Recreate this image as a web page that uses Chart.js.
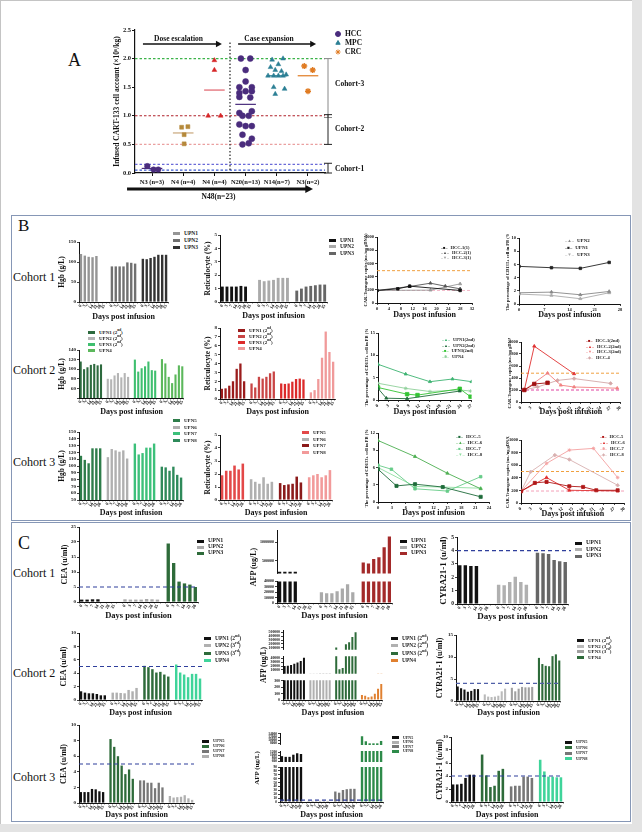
<!DOCTYPE html>
<html>
<head>
<meta charset="utf-8">
<script src="https://cdn.jsdelivr.net/npm/chart.js@4.4.1/dist/chart.umd.min.js"></script>
<style>
  html,body{margin:0;padding:0;background:#e3e3e3;}
  #page{position:relative;width:642px;height:832px;overflow:hidden;background:#e3e3e3;font-family:"Liberation Serif","Times New Roman",serif;color:#111;}
  #card{position:absolute;left:0;top:0;width:632px;height:824px;background:#fff;border-top:1px solid #c4c4c4;border-left:1px solid #c4c4c4;box-sizing:border-box;}
  .box{position:absolute;border:1.5px solid #8697b6;box-sizing:border-box;}
  .txt{position:absolute;white-space:nowrap;line-height:1;}
  .leg{position:absolute;white-space:nowrap;font-weight:bold;color:#222;}
  .leg i{display:inline-block;margin-right:4px;vertical-align:middle;}
  .leg sup{font-size:70%;line-height:0;}
  .vt{position:absolute;white-space:nowrap;font-weight:bold;transform:translate(-50%,-50%) rotate(-90deg);}
  canvas{position:absolute;}
</style>
</head>
<body>
<div id="page">
  <div id="card"></div>
  <div class="box" style="left:11px;top:215px;width:620px;height:306px"></div>
  <div class="box" style="left:11px;top:522px;width:620px;height:300px"></div>
  <div class="txt" style="left:68px;top:51px;font-size:18px">A</div>
  <div class="txt" style="left:18px;top:217px;font-size:17px">B</div>
  <div class="txt" style="left:18px;top:534px;font-size:18px">C</div>
  <div class="txt" style="left:13px;top:271px;font-size:12px">Cohort 1</div>
  <div class="txt" style="left:13px;top:364px;font-size:12px">Cohort 2</div>
  <div class="txt" style="left:13px;top:456px;font-size:12px">Cohort 3</div>
  <div class="txt" style="left:13px;top:567px;font-size:12px">Cohort 1</div>
  <div class="txt" style="left:13px;top:667px;font-size:12px">Cohort 2</div>
  <div class="txt" style="left:13px;top:771px;font-size:12px">Cohort 3</div>
</div>
<script>
// ---------- panel A data ----------
const catLabelsA = ['N3 (n=3)', 'N4 (n=4)', 'N4 (n=4)', 'N20(n=13)', 'N14(n=7)', 'N3(n=2)'];
const n3Y = [0.12, 0.06, 0.06];
const n3Dx = [-0.15, 0.05, 0.2];
const n4aY = [0.80, 0.81, 0.67, 0.51];
const n4aDx = [-0.05, 0.15, 0.03, 0.03];
const n4bY = [1.97, 1.80, 1.00, 1.00];
const n4bDx = [0, 0, -0.2, 0.2];
const n20Y = [2.0, 2.0, 1.8, 1.6, 1.5, 1.5, 1.43, 1.43, 1.4, 1.33, 1.32, 1.08, 1.05, 1.0, 1.0, 0.85, 0.82, 0.82, 0.67, 0.6, 0.52, 0.5];
const n20Dx = [-0.15, 0.15, 0, 0, -0.2, 0.2, 0, 0.2, -0.2, -0.2, 0.15, 0.2, -0.2, -0.1, 0.1, -0.2, 0.2, 0, -0.1, 0.2, 0.1, -0.1];
const n14Y = [2.0, 1.98, 1.9, 1.85, 1.8, 1.78, 1.72, 1.7, 1.7, 1.7, 1.7, 1.5, 1.47, 1.38];
const n14Dx = [0.2, -0.15, 0.05, -0.2, -0.05, 0.15, 0.3, -0.28, -0.1, 0.05, 0.2, -0.1, 0.25, -0.05];
const n3cY = [1.87, 1.80, 1.43];
const n3cDx = [-0.12, 0.15, 0];
const medianA = [0.08, 0.70, 1.45, 1.20, 1.70, 1.70];
const medianColor = ['#4a2c7d', '#c9a77a', '#e0606a', '#4a2c7d', '#2b7f94', '#e07b22'];
const cohortLines = [2.0, 1.0, 0.5, 0.15, 0.05];
const cohortColors = ['#3cb34a', '#b0202a', '#eaa0a0', '#6a6ad8', '#3a5ad0'];

// ---------- panel B data ----------
const DAYS7 = ['0', '3', '7', '14', '21', '28', '35'];
const DAYS6 = ['0', '3', '7', '14', '21', '28'];

const b1HgbUpn1 = [120, 116, 113, 112, 115, null, null];
const b1HgbUpn2 = [89, 89, 89, 89, 99, 98, 96];
const b1HgbUpn3 = [108, 107, 110, 113, 118, 118, 118];
const b1RetUpn1 = [1.15, 1.15, 1.15, 1.15, 1.2, 1.15, null];
const b1RetUpn2 = [1.65, 1.55, 1.6, 1.65, 1.8, 1.8, 1.8];
const b1RetUpn3 = [0.85, 1.0, 1.15, 1.2, 1.25, 1.3, 1.3];
const b1CarDays1 = [0, 7, 11, 28], b1CarHcc1 = [190, 215, 255, 190];
const b1CarDays2 = [0, 11, 18, 23, 28], b1CarHcc2 = [190, 250, 300, 255, 215];
const b1CarDays3 = [0, 18, 28], b1CarHcc3 = [190, 195, 290];
const b1CdDays = [0, 9, 17, 25];
const b1CdUpn2 = [1.7, 1.8, 1.4, 1.9];
const b1CdUpn1 = [5.7, 5.5, 5.4, 6.3];
const b1CdUpn3 = [1.5, 1.3, 0.8, 1.7];

const b2HgbUpn1 = [116, 100, 104, 109, 111, 108, 110];
const b2HgbUpn2 = [80, 79, 87, 92, 83, 92, 84];
const b2HgbUpn3 = [120, 95, 102, 106, 116, 98, 97];
const b2HgbUpn4 = [121, 112, 84, 71, 89, 108, 106];
const b2RetUpn1 = [1.15, 1.2, 1.5, 2.0, 3.4, 4.0, 2.0];
const b2RetUpn2 = [1.75, 1.3, 2.5, 2.3, 2.5, 2.9, 3.1];
const b2RetUpn3 = [1.75, 1.7, 1.75, 1.95, 2.25, 2.3, 2.2];
const b2RetUpn4 = [0.75, 1.0, 2.25, 4.65, 7.6, 5.3, 4.2];
const b2CdDays1 = [0, 8, 15, 21.5, 27], b2CdUpn1 = [8.0, 5.8, 4.1, 4.7, 4.1];
const b2CdDays2 = [0, 2.4, 8.4, 23.6], b2CdUpn2 = [2.6, 0.4, 0.3, 2.0];
const b2CdDays3 = [0, 8.4, 11.4, 23.6, 26.7], b2CdUpn3 = [2.8, 1.3, 1.1, 2.5, 0.75];
const b2CdDays4 = [0, 8, 15, 23.6, 26.7], b2CdUpn4 = [3.75, 2.6, 1.9, 2.25, 2.0];
const b2CarDays1 = [1, 4, 8], b2CarHcc1 = [200, 300, 320];
const b2CarDays2 = [1, 4, 16], b2CarHcc2 = [200, 930, 470];
const b2CarDays3 = [1, 8, 12, 16, 29], b2CarHcc3 = [200, 480, 280, 250, 230];
const b2CarDays4 = [1, 5, 11, 16, 27], b2CarHcc4 = [200, 250, 360, 390, 310];

const b3HgbUpn5 = [115, 109, 104, 126, 126, 126];
const b3HgbUpn6 = [113, 125, 123, 121, 123, 111];
const b3HgbUpn7 = [133, 117, 119, 127, 127, 133];
const b3HgbUpn8 = [99, 98, 93, 99, 87, 83];
const b3RetUpn5 = [1.9, 2.25, 2.25, 2.65, 2.35, 2.8];
const b3RetUpn6 = [1.6, 1.4, 1.25, 1.75, 1.25, 1.4];
const b3RetUpn7 = [1.3, 1.15, 1.2, 1.25, 1.8, 1.35];
const b3RetUpn8 = [1.75, 1.9, 2.0, 1.75, 1.9, 2.3];
const b3CdDays5 = [0, 4, 8, 14, 22.2], b3CdHcc5 = [5.7, 2.8, 3.1, 2.6, 0.9];
const b3CdDays6 = [0, 8, 15, 22.2], b3CdHcc6 = [10.7, 7.9, 5.0, 2.3];
const b3CdDays7 = [0, 2.9, 8, 15, 22.2], b3CdHcc7 = [6.4, 5.7, 2.3, 1.9, 4.4];
const b3CdDays8 = [0, 8, 14, 22.2], b3CdHcc8 = [6.0, 2.7, 2.6, 2.4];
const b3CarDays5 = [0, 4, 7.4, 14, 18, 21.8, 28], b3CarHcc5 = [186, 319, 335, 266, 255, 202, 202];
const b3CarDays6 = [0, 7.4, 14, 28], b3CarHcc6 = [186, 404, 202, 191];
const b3CarDays7 = [0, 7.4, 14, 21, 28], b3CarHcc7 = [186, 628, 840, 867, 404];
const b3CarDays8 = [0, 2.8, 9.8, 14, 28], b3CarHcc8 = [186, 495, 760, 690, 282];

// ---------- panel C data ----------
const c1CeaUpn1 = [0.8, 0.8, 0.9, 0.9, null, null, null];
const c1CeaUpn2 = [0.9, 0.8, 0.8, 0.8, 1.0, 0.9, 0.8];
const c1CeaUpn3 = [19.5, 13, 6.8, 6.2, 5.8, 5.0];
const c1AfpUpn1 = [200000, 200000, 200000, 200000, null, null, null];
const c1AfpUpn2 = [20000, 18000, 18000, 21700, 27000, 34500, 20000];
const c1AfpUpn3 = [450000, 425000, 550000, 592000, 867000, 1157000];
const c1CyUpn1 = [2.9, 2.9, 2.85, 2.85, null, null];
const c1CyUpn2 = [1.45, 1.4, 1.65, 2.05, 1.65, 1.45];
const c1CyUpn3 = [3.85, 3.8, 3.75, 3.3, 3.2, 3.15];

const c2CeaUpn1 = [1.3, 1.1, 1.0, 1.0, 0.9, 0.7, 0.7];
const c2CeaUpn2 = [1.1, 1.1, 1.05, 1.0, 1.5, 1.3, 1.8];
const c2CeaUpn3 = [5.1, 4.9, 4.6, 4.1, 4.2, 3.8, 3.5];
const c2CeaUpn4 = [5.3, 4.1, 3.8, 3.4, 3.9, 3.9, 3.2];
const c2AfpUpn1 = [20000, 21000, 23000, 26000, 29000, 33000, 41000];
const c2AfpUpn2 = [700, 650, 700, 750, 800, 900, 850];
const c2AfpUpn3 = [105000, 12000, 15000, 190000, 240000, 380000, 500000];
const c2AfpUpn4 = [80, 65, 45, 55, 100, 175, 250];
const c2CyUpn1 = [3.3, 2.9, 2.6, 2.1, 2.3, 2.7, 2.7];
const c2CyUpn2 = [1.5, 1.0, 0.9, 1.0, 1.2, 2.2, 2.8];
const c2CyUpn3 = [3.0, 2.2, 2.8, 3.2, 3.1, 3.1, 3.2];
const c2CyUpn4 = [9.8, 8.4, 8.0, 7.9, 10.2, 10.6, 9.2];

const c3CeaUpn5 = [1.4, 1.4, 1.4, 1.8, 1.75, 1.5, 1.4];
const c3CeaUpn6 = [8.2, 7.2, 6.0, 4.8, 3.7, 4.3, 3.1];
const c3CeaUpn7 = [2.9, 2.9, 2.6, 2.6, 1.9, 2.6, 2.0];
const c3CeaUpn8 = [0.9, 0.7, 0.75, 0.8, 1.0, 0.6, 0.4];
const c3AfpUpn5 = [950, 900, 900, 1050, 1150, 1100];
const c3AfpUpn6 = [3, 3, 3, 3, 3, 3];
const c3AfpUpn7 = [27, 24, 31, 33, 34, 34];
const c3AfpUpn8 = [12500, 9300, 8000, 8000, 8000, 9500];
const c3CyUpn5 = [2.7, 2.7, 2.8, 3.7, 4.2, 4.2];
const c3CyUpn6 = [7.3, 4.1, 2.3, 2.5, 4.8, 5.1];
const c3CyUpn7 = [2.4, 2.5, 2.5, 3.9, 3.9, 3.7];
const c3CyUpn8 = [6.5, 4.7, 3.9, 3.9, 3.8, 3.8];

// ---------- helpers ----------
const FONT = "'Liberation Serif', 'Times New Roman', serif";
Chart.defaults.font.family = FONT;
Chart.defaults.color = '#111';
const page = document.getElementById('page');
const BLUE = '#2f3f9c';

function mkCanvas(left, top, w, h) {
  const c = document.createElement('canvas');
  c.width = Math.round(w); c.height = Math.round(h);
  c.style.left = Math.round(left) + 'px'; c.style.top = Math.round(top) + 'px';
  c.style.width = Math.round(w) + 'px'; c.style.height = Math.round(h) + 'px';
  page.appendChild(c);
  return c;
}

function legend(x, y, items, opt) {
  const fs = opt.size || 5.5, gap = opt.gap || 7;
  items.forEach((it, i) => {
    const d = document.createElement('div');
    d.className = 'leg';
    d.style.left = x + 'px';
    d.style.top = (y + i * gap - fs * 0.6) + 'px';
    d.style.fontSize = fs + 'px';
    d.style.lineHeight = (fs * 1.2) + 'px';
    const m = it.mark
      ? `<span style="color:${it.color};margin-right:3px;font-size:${fs * 0.9}px">–${it.mark}–</span>`
      : `<i style="background:${it.color};width:${opt.mw || 7}px;height:${opt.mh || 3}px"></i>`;
    d.innerHTML = m + it.label;
    page.appendChild(d);
  });
}

function vtitle(x, y, text, size) {
  const d = document.createElement('div');
  d.className = 'vt';
  d.style.left = x + 'px'; d.style.top = y + 'px'; d.style.fontSize = size + 'px';
  d.textContent = text;
  page.appendChild(d);
}

const refLine = {
  id: 'refLine',
  afterDatasetsDraw(chart, args, o) {
    if (!o || o.value === undefined) return;
    const a = chart.chartArea, yv = chart.scales.y.getPixelForValue(o.value);
    const ctx = chart.ctx;
    ctx.save();
    ctx.strokeStyle = o.color || BLUE; ctx.lineWidth = o.width || 1.2; ctx.setLineDash(o.dash || [4, 3]);
    ctx.beginPath(); ctx.moveTo(a.left, yv); ctx.lineTo(a.right + (o.extend || 0), yv); ctx.stroke();
    ctx.restore();
  }
};
Chart.register(refLine);

function buildGroups(groups, days) {
  const labels = [];
  const datasets = groups.map(g => ({label: g.label, backgroundColor: g.color, data: [], grouped: false,
    barPercentage: 0.62, categoryPercentage: 1, clip: 0}));
  groups.forEach((g, gi) => {
    g.values.forEach((v, j) => {
      labels.push(days[j]);
      datasets.forEach((d, di) => d.data.push(di === gi ? v : null));
    });
    if (gi < groups.length - 1) { labels.push(''); datasets.forEach(d => d.data.push(null)); }
  });
  return {labels, datasets};
}

function yScale(o) {
  const s = {
    type: 'linear', min: o.min, max: o.max,
    ticks: {stepSize: o.step, font: {size: o.tick || 5, weight: 'bold'}, color: '#111', padding: 1,
      autoSkip: false, callback: o.cb || (v => String(v))},
    grid: {drawOnChartArea: false, drawTicks: true, tickLength: 2, color: '#111', lineWidth: 0.8},
    border: {color: '#111', width: 1},
    title: {display: !!o.title, text: o.title, font: {size: o.tsize || 7, weight: 'bold'}, padding: 0, color: '#111'},
    afterFit: sc => { sc.width = o.padL; }
  };
  if (o.ticksList) s.afterBuildTicks = sc => { sc.ticks = o.ticksList.map(v => ({value: v})); };
  return s;
}

function xCat(show, padB, xs, tick) {
  return {
    display: show,
    grid: {drawOnChartArea: false, drawTicks: true, tickLength: 1.5, color: '#111', lineWidth: 0.6},
    border: {color: '#111', width: 1},
    ticks: {font: {size: tick || 4.5, weight: 'bold'}, color: '#111', autoSkip: false, minRotation: 60, maxRotation: 60, padding: 0},
    title: {display: true, text: 'Days post infusion', font: {size: xs, weight: 'bold'}, padding: 0, color: '#111'},
    afterFit: sc => { sc.height = padB; }
  };
}

function barChart(o) {
  const xs = o.xsize || 8, ys = o.ysize || 7.5;
  const padL = Math.round(o.plot.x - (o.yTitleX - 0.6 * ys));
  const padT = 4, padR = 3;
  const padB = Math.round(o.xTitleY + 0.6 * xs - (o.plot.y + o.plot.h));
  const c = mkCanvas(o.plot.x - padL, o.plot.y - padT, o.plot.w + padL + padR, o.plot.h + padT + padB);
  const {labels, datasets} = buildGroups(o.groups, o.days);
  new Chart(c, {
    type: 'bar', data: {labels, datasets},
    options: {
      responsive: false, animation: false,
      layout: {padding: {left: 0, top: padT, right: padR, bottom: 0}, autoPadding: false},
      plugins: {legend: {display: false}, tooltip: {enabled: false}, refLine: o.ref || {}},
      scales: {x: xCat(true, padB, xs, o.xtick), y: yScale(Object.assign({}, o.y, {padL, title: o.yTitle, tsize: ys}))}
    }
  });
  if (o.legend) legend(o.legend.x, o.legend.y, o.groups.map(g => ({label: g.html || g.label, color: g.color})), o.legend);
}

function brokenChart(o) {
  const xs = o.xsize || 8;
  o.segs.forEach((sg, si) => {
    const last = si === o.segs.length - 1;
    const padL = 28, padT = 3, padR = 3;
    const padB = last ? Math.round(o.xTitleY + 0.6 * xs - sg.bottom) : 0;
    const h = sg.bottom - sg.top;
    const c = mkCanvas(o.x - padL, sg.top - padT, o.w + padL + padR, h + padT + padB);
    const {labels, datasets} = buildGroups(o.groups, o.days);
    new Chart(c, {
      type: 'bar', data: {labels, datasets},
      options: {
        responsive: false, animation: false,
        layout: {padding: {left: 0, top: padT, right: padR, bottom: 0}, autoPadding: false},
        plugins: {legend: {display: false}, tooltip: {enabled: false},
          refLine: (o.ref && o.ref.seg === si) ? o.ref : {}},
        scales: {x: xCat(last, padB, xs, o.xtick),
          y: yScale({min: sg.min, max: sg.max, ticksList: sg.ticks, padL, tick: sg.tick || 4})}
      }
    });
  });
  vtitle(o.titleX, o.titleY, o.title, o.tsize || 7.5);
  if (o.legend) legend(o.legend.x, o.legend.y, o.groups.map(g => ({label: g.html || g.label, color: g.color})), o.legend);
}

function lineChart(o) {
  const xs = o.xsize || 8, ys = o.ysize || 4.5;
  const padL = Math.round(o.plot.x - (o.yTitleX - 0.6 * ys));
  const padT = 4, padR = 4;
  const padB = Math.round(o.xTitleY + 0.6 * xs - (o.plot.y + o.plot.h));
  const c = mkCanvas(o.plot.x - padL, o.plot.y - padT, o.plot.w + padL + padR, o.plot.h + padT + padB);
  const datasets = o.series.map(s => ({
    label: s.label, data: s.days.map((d, i) => ({x: d, y: s.vals[i]})), showLine: true,
    borderColor: s.color, backgroundColor: s.fill || s.color, pointStyle: s.style, pointRadius: s.r || 1.8,
    borderWidth: 0.9, pointBorderWidth: 0.8
  }));
  (o.refs || []).forEach(r => datasets.push({
    data: [{x: o.x.min, y: r.v}, {x: o.x.max, y: r.v}], showLine: true, borderColor: r.color,
    borderDash: [3, 2], borderWidth: 1, pointRadius: 0
  }));
  new Chart(c, {
    type: 'scatter', data: {datasets},
    options: {
      responsive: false, animation: false,
      layout: {padding: {left: 0, top: padT, right: padR, bottom: 0}, autoPadding: false},
      plugins: {legend: {display: false}, tooltip: {enabled: false}},
      scales: {
        x: {type: 'linear', min: o.x.min, max: o.x.max,
          ticks: {stepSize: o.x.step, font: {size: 4.5, weight: 'bold'}, color: '#111', padding: 1, autoSkip: false},
          grid: {drawOnChartArea: false, drawTicks: true, tickLength: 2, color: '#111', lineWidth: 0.8},
          border: {color: '#111', width: 1},
          title: {display: true, text: 'Days post infusion', font: {size: xs, weight: 'bold'}, padding: 0, color: '#111'},
          afterFit: sc => { sc.height = padB; }},
        y: yScale(Object.assign({}, o.y, {padL, title: o.yTitle, tsize: ys, tick: 4.5}))
      }
    }
  });
  if (o.legend) legend(o.legend.x, o.legend.y, o.series.map(s => ({label: s.label, color: s.color, mark: s.mark})), o.legend);
}

// ---------- panel A ----------
function arrow(ctx, x1, x2, y, lw, head) {
  ctx.lineWidth = lw;
  ctx.beginPath(); ctx.moveTo(x1, y); ctx.lineTo(x2 - head, y); ctx.stroke();
  ctx.beginPath(); ctx.moveTo(x2, y); ctx.lineTo(x2 - head * 1.7, y - head * 0.9); ctx.lineTo(x2 - head * 1.7, y + head * 0.9);
  ctx.closePath(); ctx.fill();
}
function bracket(ctx, x, y1, y2, cap) {
  ctx.beginPath();
  ctx.moveTo(x - cap, y1); ctx.lineTo(x + cap, y1);
  ctx.moveTo(x, y1); ctx.lineTo(x, y2);
  ctx.moveTo(x - cap, y2); ctx.lineTo(x + cap, y2);
  ctx.stroke();
}
const legendA = [
  {label: 'HCC', color: '#4a2c7d', style: 'circle'},
  {label: 'MPC', color: '#2b7f94', style: 'triangle'},
  {label: 'CRC', color: '#e07b22', style: 'star'}
];
const panelAPlugin = {
  id: 'panelA',
  afterDraw(chart) {
    const {ctx, chartArea: a, scales: {x, y}} = chart;
    const px = v => x.getPixelForValue(v), py = v => y.getPixelForValue(v);
    ctx.save();
    ctx.fillStyle = '#111'; ctx.strokeStyle = '#111';
    ctx.font = 'bold 7.5px ' + FONT;
    ctx.textAlign = 'center'; ctx.textBaseline = 'middle';
    ctx.fillText('Dose escalation', px(1.85), a.top + 9);
    arrow(ctx, px(0.71), px(3.24), a.top + 14, 1.6, 3.5);
    ctx.fillText('Case expansion', px(4.75), a.top + 9);
    arrow(ctx, px(3.76), px(6.26), a.top + 14, 1.6, 3.5);
    arrow(ctx, px(0.2), px(6.16), a.bottom + 16, 3, 4.5);
    ctx.fillText('N48(n=23)', px(3.13), a.bottom + 24);
    const bx = a.right + 3;
    ctx.lineWidth = 1;
    ctx.strokeStyle = '#888';
    bracket(ctx, bx, py(2.0), py(0.97), 4);
    ctx.strokeStyle = '#222';
    bracket(ctx, bx, py(1.02), py(0.5), 4);
    bracket(ctx, bx, py(0.17), py(0.0), 4);
    ctx.textAlign = 'left';
    ctx.fillText('Cohort-3', bx + 7, py(1.56));
    ctx.fillText('Cohort-2', bx + 7, py(0.77));
    ctx.fillText('Cohort-1', bx + 7, py(0.075));
    legendA.forEach((it, i) => {
      const ly = a.top + 4 + i * 9;
      ctx.fillStyle = it.color; ctx.strokeStyle = it.color;
      Chart.helpers.drawPoint(ctx, {pointStyle: it.style, radius: 2.5, borderWidth: it.style === 'star' ? 1.2 : 1, rotation: 0}, bx + 10, ly);
      ctx.fillStyle = '#111';
      ctx.fillText(it.label, bx + 17, ly);
    });
    ctx.restore();
  }
};

(function () {
  const xMin = 0.455, xMax = 6.545;
  const pts = (ys, dx, c) => ys.map((v, i) => ({x: c + dx[i], y: v}));
  const dots = (data, style, color, r) => ({data, pointStyle: style, pointRadius: r || 2.8,
    backgroundColor: color, borderColor: color, borderWidth: style === 'star' ? 1.4 : 0.5});
  const datasets = [
    dots(pts(n3Y, n3Dx, 1), 'circle', '#4a2c7d'),
    dots(pts(n4aY, n4aDx, 2), 'rect', '#b5893a'),
    dots(pts(n4bY, n4bDx, 3), 'triangle', '#d62728'),
    dots(pts(n20Y, n20Dx, 4), 'circle', '#4a2c7d', 3),
    dots(pts(n14Y, n14Dx, 5), 'triangle', '#2b7f94'),
    dots(pts(n3cY, n3cDx, 6), 'star', '#e07b22', 3)
  ];
  medianA.forEach((m, i) => datasets.push({data: [{x: i + 1 - 0.33, y: m}, {x: i + 1 + 0.33, y: m}],
    showLine: true, borderColor: medianColor[i], borderWidth: 1.2, pointRadius: 0}));
  datasets.push({data: [{x: 3.5, y: 2.28}, {x: 3.5, y: 0.04}], showLine: true, borderColor: '#222',
    borderDash: [1.5, 2], borderWidth: 1.2, pointRadius: 0});
  cohortLines.forEach((v, i) => datasets.push({data: [{x: xMin, y: v}, {x: xMax, y: v}], showLine: true,
    borderColor: cohortColors[i], borderDash: [2.5, 2], borderWidth: 1.1, pointRadius: 0}));
  const c = mkCanvas(113, 20, 277, 186);
  new Chart(c, {
    type: 'scatter', data: {datasets},
    plugins: [panelAPlugin],
    options: {
      responsive: false, animation: false,
      layout: {padding: {left: 0, top: 10, right: 65, bottom: 0}, autoPadding: false},
      plugins: {legend: {display: false}, tooltip: {enabled: false}},
      scales: {
        x: {type: 'linear', min: xMin, max: xMax,
          afterBuildTicks: sc => { sc.ticks = catLabelsA.map((l, i) => ({value: i + 1})); },
          ticks: {callback: v => catLabelsA[v - 1], font: {size: 6.5, weight: 'bold'}, color: '#111', padding: 2, autoSkip: false, maxRotation: 0},
          grid: {drawOnChartArea: false, drawTicks: true, tickLength: 3, color: '#111'},
          border: {color: '#111', width: 1.2},
          afterFit: sc => { sc.height = 33; }},
        y: {type: 'linear', min: 0, max: 2.5,
          ticks: {stepSize: 0.5, callback: v => v.toFixed(1), font: {size: 6.5, weight: 'bold'}, color: '#111', padding: 1},
          grid: {drawOnChartArea: false, drawTicks: true, tickLength: 3, color: '#111'},
          border: {color: '#111', width: 1.2},
          title: {display: true, text: 'Infused CART-133 cell account (×10⁶/kg)', font: {size: 7.5, weight: 'bold'}, padding: 0, color: '#111'},
          afterFit: sc => { sc.width = 22; }}
      }
    }
  });
})();

// ---------- panel B ----------
barChart({plot: {x: 79, y: 242, w: 89, h: 60}, yTitleX: 63, xTitleY: 317, yTitle: 'Hgb (g/L)', days: DAYS7,
  y: {min: 0, max: 150, step: 50},
  groups: [{label: 'UPN1', color: '#959595', values: b1HgbUpn1}, {label: 'UPN2', color: '#707070', values: b1HgbUpn2},
    {label: 'UPN3', color: '#333', values: b1HgbUpn3}],
  legend: {x: 173, y: 233, gap: 7, size: 5.5}});
barChart({plot: {x: 220, y: 235, w: 107, h: 67}, yTitleX: 209, xTitleY: 316, yTitle: 'Reticulocyte (%)', days: DAYS7,
  y: {min: 0, max: 5, step: 1},
  groups: [{label: 'UPN1', color: '#111', values: b1RetUpn1}, {label: 'UPN2', color: '#aaa', values: b1RetUpn2},
    {label: 'UPN3', color: '#666', values: b1RetUpn3}],
  legend: {x: 329, y: 240, gap: 6.5, size: 5.5}});
lineChart({plot: {x: 377, y: 237, w: 95, h: 66}, yTitleX: 366, xTitleY: 315,
  yTitle: 'CAR-Transgene copies (no./ug gDNA)', x: {min: 0, max: 32, step: 4}, y: {min: 0, max: 1000, step: 200},
  series: [
    {label: 'HCC-1(1)', days: b1CarDays1, vals: b1CarHcc1, color: '#111', style: 'rect', mark: '■'},
    {label: 'HCC-2(1)', days: b1CarDays2, vals: b1CarHcc2, color: '#555', style: 'triangle', mark: '▲'},
    {label: 'HCC-3(1)', days: b1CarDays3, vals: b1CarHcc3, color: '#999', style: 'triangle', mark: '▼'}],
  refs: [{v: 490, color: '#f0a040'}, {v: 190, color: '#f2b8c8'}],
  legend: {x: 441, y: 248, gap: 5, size: 4.5}});
lineChart({plot: {x: 519, y: 238, w: 101, h: 66}, yTitleX: 508, xTitleY: 315,
  yTitle: 'The percentage of CD133+ cell in PB (%)', x: {min: 0, max: 28, step: 7}, y: {min: 0, max: 10, step: 2},
  series: [
    {label: 'UPN2', days: b1CdDays, vals: b1CdUpn2, color: '#888', style: 'triangle', mark: '▲'},
    {label: 'UPN1', days: b1CdDays, vals: b1CdUpn1, color: '#222', style: 'rect', mark: '■'},
    {label: 'UPN3', days: b1CdDays, vals: b1CdUpn3, color: '#aaa', style: 'triangle', mark: '▼'}],
  legend: {x: 565, y: 241, gap: 7, size: 5}});

barChart({plot: {x: 79, y: 350, w: 105, h: 48}, yTitleX: 63, xTitleY: 412, yTitle: 'Hgb (g/L)', days: DAYS7,
  y: {min: 40, max: 140, step: 20, cb: v => v === 40 ? '' : String(v)},
  groups: [{label: 'UPN1 (2nd)', html: 'UPN1 (2<sup>nd</sup>)', color: '#2d6a3e', values: b2HgbUpn1},
    {label: 'UPN2 (2nd)', html: 'UPN2 (2<sup>nd</sup>)', color: '#b5b5b5', values: b2HgbUpn2},
    {label: 'UPN3 (2nd)', html: 'UPN3 (2<sup>nd</sup>)', color: '#3fbf6f', values: b2HgbUpn3},
    {label: 'UPN4', color: '#5cb85c', values: b2HgbUpn4}],
  legend: {x: 88, y: 333, gap: 6, size: 5}});
barChart({plot: {x: 220, y: 328, w: 115, h: 71}, yTitleX: 209, xTitleY: 412, yTitle: 'Reticulocyte (%)', days: DAYS7,
  y: {min: 0, max: 8, step: 1},
  groups: [{label: 'UPN1 (2nd)', html: 'UPN1 (2<sup>nd</sup>)', color: '#9b1c1c', values: b2RetUpn1},
    {label: 'UPN2 (2nd)', html: 'UPN2 (2<sup>nd</sup>)', color: '#c94545', values: b2RetUpn2},
    {label: 'UPN3 (2nd)', html: 'UPN3 (2<sup>nd</sup>)', color: '#dc2a2a', values: b2RetUpn3},
    {label: 'UPN4', color: '#f09a9a', values: b2RetUpn4}],
  legend: {x: 238, y: 331, gap: 6, size: 5}});
lineChart({plot: {x: 378, y: 333, w: 94, h: 67}, yTitleX: 367, xTitleY: 412,
  yTitle: 'The percentage of CD133+ cell in PB (%)', x: {min: 0, max: 27, step: 3}, y: {min: 0, max: 15, step: 5},
  series: [
    {label: 'UPN1(2nd)', days: b2CdDays1, vals: b2CdUpn1, color: '#3cb371', style: 'triangle', mark: '▲'},
    {label: 'UPN2(2nd)', days: b2CdDays2, vals: b2CdUpn2, color: '#1e6b3a', style: 'triangle', mark: '▲'},
    {label: 'UPN3(2nd)', days: b2CdDays3, vals: b2CdUpn3, color: '#33c433', style: 'rect', mark: '■', r: 2.5},
    {label: 'UPN4', days: b2CdDays4, vals: b2CdUpn4, color: '#8fd09a', style: 'star', mark: '✱'}],
  legend: {x: 442, y: 340, gap: 5.5, size: 4.5}});
lineChart({plot: {x: 521, y: 342, w: 100, h: 60}, yTitleX: 510, xTitleY: 412,
  yTitle: 'CAR-Transgene copies (no./ug gDNA)', x: {min: 0, max: 30, step: 3}, y: {min: 0, max: 1000, step: 200},
  series: [
    {label: 'HCC-1(2nd)', days: b2CarDays1, vals: b2CarHcc1, color: '#a01010', style: 'rect', mark: '■', r: 2.5},
    {label: 'HCC-2(2nd)', days: b2CarDays2, vals: b2CarHcc2, color: '#e03030', style: 'triangle', mark: '▲'},
    {label: 'HCC-3(2nd)', days: b2CarDays3, vals: b2CarHcc3, color: '#f08080', style: 'triangle', mark: '▼'},
    {label: 'HCC-4', days: b2CarDays4, vals: b2CarHcc4, color: '#d4a8a8', style: 'rectRot', mark: '◆'}],
  refs: [{v: 480, color: '#f0a040'}, {v: 200, color: '#e040a0'}],
  legend: {x: 586, y: 341, gap: 5.5, size: 4.5}});

barChart({plot: {x: 79, y: 432, w: 104, h: 68}, yTitleX: 63, xTitleY: 513, yTitle: 'Hgb (g/L)', days: DAYS6,
  y: {min: 50, max: 150, step: 10},
  groups: [{label: 'UPN5', color: '#2e7d4a', values: b3HgbUpn5}, {label: 'UPN6', color: '#b0b0b0', values: b3HgbUpn6},
    {label: 'UPN7', color: '#3cc07a', values: b3HgbUpn7}, {label: 'UPN8', color: '#2e8a5a', values: b3HgbUpn8}],
  legend: {x: 173, y: 421, gap: 6.5, size: 5}});
barChart({plot: {x: 220, y: 435, w: 112, h: 65}, yTitleX: 209, xTitleY: 513, yTitle: 'Reticulocyte (%)', days: DAYS6,
  y: {min: 0, max: 5, step: 1},
  groups: [{label: 'UPN5', color: '#e34848', values: b3RetUpn5}, {label: 'UPN6', color: '#b0b0b0', values: b3RetUpn6},
    {label: 'UPN7', color: '#8b1a1a', values: b3RetUpn7}, {label: 'UPN8', color: '#f29a9a', values: b3RetUpn8}],
  legend: {x: 302, y: 433, gap: 6.5, size: 5}});
lineChart({plot: {x: 378, y: 433, w: 111, h: 69}, yTitleX: 367, xTitleY: 513,
  yTitle: 'The percentage of CD133+ cell in PB (%)', x: {min: 0, max: 24, step: 3}, y: {min: 0, max: 12, step: 3},
  series: [
    {label: 'HCC-5', days: b3CdDays5, vals: b3CdHcc5, color: '#1e6b3a', style: 'rect', mark: '■', r: 2.2},
    {label: 'HCC-6', days: b3CdDays6, vals: b3CdHcc6, color: '#4caf50', style: 'triangle', mark: '▲'},
    {label: 'HCC-7', days: b3CdDays7, vals: b3CdHcc7, color: '#66cc88', style: 'rect', mark: '■'},
    {label: 'HCC-8', days: b3CdDays8, vals: b3CdHcc8, color: '#8fdfa0', style: 'triangle', mark: '▼'}],
  legend: {x: 456, y: 437, gap: 6, size: 4.8}});
lineChart({plot: {x: 521, y: 440, w: 104, h: 63}, yTitleX: 508, xTitleY: 514,
  yTitle: 'CAR-Transgene copies (no./ug gDNA)', x: {min: 0, max: 30, step: 3}, y: {min: 0, max: 1000, step: 200},
  series: [
    {label: 'HCC-5', days: b3CarDays5, vals: b3CarHcc5, color: '#b01818', style: 'rect', mark: '■', r: 2.2},
    {label: 'HCC-6', days: b3CarDays6, vals: b3CarHcc6, color: '#e03030', style: 'triangle', mark: '▲'},
    {label: 'HCC-7', days: b3CarDays7, vals: b3CarHcc7, color: '#f4a0a0', style: 'star', mark: '✱'},
    {label: 'HCC-8', days: b3CarDays8, vals: b3CarHcc8, color: '#d8b0b0', style: 'rectRot', mark: '◆'}],
  refs: [{v: 500, color: '#f0a040'}, {v: 190, color: '#f4a0b8'}],
  legend: {x: 600, y: 437, gap: 6, size: 4.5}});

// ---------- panel C ----------
barChart({plot: {x: 79, y: 527, w: 119, h: 75}, yTitleX: 65, xTitleY: 616, yTitle: 'CEA (u/ml)', ysize: 8, xsize: 8.5, days: DAYS7,
  y: {min: 0, max: 25, step: 5},
  groups: [{label: 'UPN1', color: '#111', values: c1CeaUpn1}, {label: 'UPN2', color: '#aaa', values: c1CeaUpn2},
    {label: 'UPN3', color: '#2e6b3a', values: c1CeaUpn3}],
  ref: {value: 5, color: BLUE},
  legend: {x: 197, y: 541, gap: 6, size: 6}});
brokenChart({x: 277, w: 115, xTitleY: 616, xsize: 8.5, days: DAYS7, title: 'AFP (ug/L)', titleX: 253, titleY: 567, tsize: 8,
  segs: [{top: 530, bottom: 577, min: 150000, max: 1325000, ticks: [500000, 1000000]},
    {top: 581, bottom: 603, min: 0, max: 40000, ticks: [0, 10000, 20000, 30000, 40000]}],
  groups: [{label: 'UPN1', color: '#111', values: c1AfpUpn1}, {label: 'UPN2', color: '#aaa', values: c1AfpUpn2},
    {label: 'UPN3', color: '#a32a2a', values: c1AfpUpn3}],
  legend: {x: 400, y: 541, gap: 6, size: 6}});
barChart({plot: {x: 457, y: 537, w: 111, h: 67}, yTitleX: 443, xTitleY: 617, yTitle: 'CYRA21-1 (u/ml)', ysize: 9, xsize: 9, days: DAYS6,
  y: {min: 0, max: 5, step: 1, tick: 5.5},
  groups: [{label: 'UPN1', color: '#111', values: c1CyUpn1}, {label: 'UPN2', color: '#b0b0b0', values: c1CyUpn2},
    {label: 'UPN3', color: '#666', values: c1CyUpn3}],
  ref: {value: 4, color: BLUE, extend: 5},
  legend: {x: 575, y: 543, gap: 6.5, size: 6}});

barChart({plot: {x: 79, y: 633, w: 123, h: 67}, yTitleX: 64, xTitleY: 713, yTitle: 'CEA (u/ml)', ysize: 8, days: DAYS7,
  y: {min: 0, max: 10, step: 2},
  groups: [{label: 'UPN1 (2nd)', html: 'UPN1 (2<sup>nd</sup>)', color: '#111', values: c2CeaUpn1},
    {label: 'UPN2 (3rd)', html: 'UPN2 (3<sup>rd</sup>)', color: '#b0b0b0', values: c2CeaUpn2},
    {label: 'UPN3 (3rd)', html: 'UPN3 (3<sup>rd</sup>)', color: '#2e6b3a', values: c2CeaUpn3},
    {label: 'UPN4', color: '#3fd49a', values: c2CeaUpn4}],
  ref: {value: 5, color: BLUE},
  legend: {x: 204, y: 638, gap: 7.5, size: 5.5}});
brokenChart({x: 283, w: 100, xTitleY: 713, days: DAYS7, title: 'AFP (ug/L)', titleX: 263, titleY: 665, tsize: 7.5,
  segs: [{top: 630, bottom: 653, min: 50000, max: 550000, ticks: [100000, 200000, 300000, 400000, 500000], tick: 3.8},
    {top: 656, bottom: 677, min: 500, max: 45000, ticks: [10000, 20000, 30000, 40000], tick: 3.8},
    {top: 680, bottom: 700, min: 0, max: 310, ticks: [0, 100, 200, 300], tick: 3.8}],
  groups: [{label: 'UPN1 (2nd)', html: 'UPN1 (2<sup>nd</sup>)', color: '#111', values: c2AfpUpn1},
    {label: 'UPN2 (2nd)', html: 'UPN2 (2<sup>nd</sup>)', color: '#b0b0b0', values: c2AfpUpn2},
    {label: 'UPN3 (2nd)', html: 'UPN3 (2<sup>nd</sup>)', color: '#2e6b3a', values: c2AfpUpn3},
    {label: 'UPN4', color: '#e08030', values: c2AfpUpn4}],
  legend: {x: 391, y: 638, gap: 7.5, size: 5.5}});
barChart({plot: {x: 456, y: 635, w: 105, h: 66}, yTitleX: 440, xTitleY: 713, yTitle: 'CYRA21-1 (u/ml)', ysize: 8, days: DAYS7,
  y: {min: 0, max: 15, step: 5},
  groups: [{label: 'UPN1 (2nd)', html: 'UPN1 (2<sup>nd</sup>)', color: '#111', values: c2CyUpn1},
    {label: 'UPN2 (3rd)', html: 'UPN2 (3<sup>rd</sup>)', color: '#bababa', values: c2CyUpn2},
    {label: 'UPN3 (3rd)', html: 'UPN3 (3<sup>rd</sup>)', color: '#a0a0a0', values: c2CyUpn3},
    {label: 'UPN4', color: '#2e6b3a', values: c2CyUpn4}],
  ref: {value: 4, color: '#5060a8'},
  legend: {x: 577, y: 641, gap: 5.5, size: 5}});

barChart({plot: {x: 79, y: 725, w: 115, h: 78}, yTitleX: 64, xTitleY: 815, yTitle: 'CEA (u/ml)', ysize: 8, days: DAYS7,
  y: {min: 0, max: 10, step: 2},
  groups: [{label: 'UPN5', color: '#111', values: c3CeaUpn5}, {label: 'UPN6', color: '#2e6b3a', values: c3CeaUpn6},
    {label: 'UPN7', color: '#777', values: c3CeaUpn7}, {label: 'UPN8', color: '#b0b0b0', values: c3CeaUpn8}],
  ref: {value: 5, color: BLUE},
  legend: {x: 202, y: 741, gap: 5, size: 4.5}});
brokenChart({x: 280, w: 103, xTitleY: 815, days: DAYS6, title: 'AFP (ug/L)', titleX: 257, titleY: 768, tsize: 7,
  segs: [{top: 733, bottom: 748, min: 7000, max: 14500, ticks: [8000, 10000, 12000, 14000], tick: 3.5},
    {top: 751, bottom: 765, min: 550, max: 1300, ticks: [600, 800, 1000, 1200], tick: 3.5},
    {top: 767, bottom: 802, min: 0, max: 90, ticks: [0, 10, 20, 30, 40, 50, 60, 70, 80, 90], tick: 3.5}],
  groups: [{label: 'UPN5', color: '#111', values: c3AfpUpn5}, {label: 'UPN6', color: '#b0b0b0', values: c3AfpUpn6},
    {label: 'UPN7', color: '#777', values: c3AfpUpn7}, {label: 'UPN8', color: '#2e8b4a', values: c3AfpUpn8}],
  ref: {seg: 2, value: 5, color: BLUE},
  legend: {x: 392, y: 738, gap: 4.5, size: 4}});
barChart({plot: {x: 451, y: 737, w: 112, h: 65}, yTitleX: 440, xTitleY: 815, yTitle: 'CYRA21-1 (u/ml)', ysize: 8, days: DAYS6,
  y: {min: 0, max: 10, step: 2},
  groups: [{label: 'UPN5', color: '#111', values: c3CyUpn5}, {label: 'UPN6', color: '#2e6b3a', values: c3CyUpn6},
    {label: 'UPN7', color: '#777', values: c3CyUpn7}, {label: 'UPN8', color: '#3fd49a', values: c3CyUpn8}],
  ref: {value: 4, color: BLUE},
  legend: {x: 565, y: 742, gap: 5.5, size: 4.5}});
</script>
</body>
</html>
